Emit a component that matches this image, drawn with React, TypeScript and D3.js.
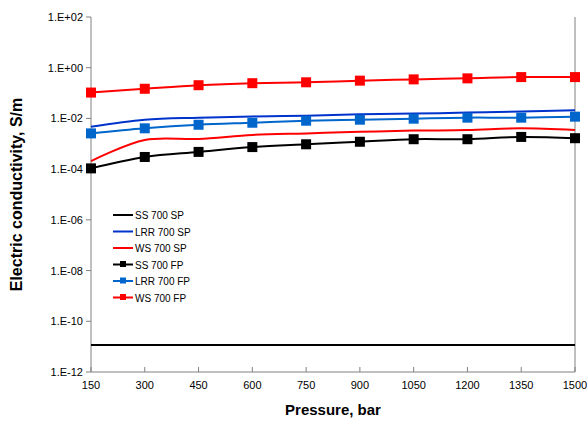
import React from "react";
import * as d3 from "d3";

const pressures = [150, 300, 450, 600, 750, 900, 1050, 1200, 1350, 1500];
const yTicks = [1e-12, 1e-10, 1e-8, 1e-6, 1e-4, 1e-2, 1, 1e2];
const yTickLabels = ["1.E-12", "1.E-10", "1.E-08", "1.E-06", "1.E-04", "1.E-02", "1.E+00", "1.E+02"];
const ssSP = [1.15e-11, 1.15e-11, 1.15e-11, 1.15e-11, 1.15e-11, 1.15e-11, 1.15e-11, 1.15e-11, 1.15e-11, 1.15e-11];
const lrrSPlog = [-2.33, -2.05, -1.97, -1.92, -1.89, -1.84, -1.81, -1.77, -1.73, -1.68];
const wsSPlog = [-3.68, -2.85, -2.81, -2.65, -2.59, -2.53, -2.48, -2.46, -2.39, -2.46];
const ssFPlog = [-3.97, -3.52, -3.32, -3.13, -3.02, -2.92, -2.82, -2.82, -2.73, -2.78];
const lrrFPlog = [-2.59, -2.39, -2.25, -2.17, -2.09, -2.05, -2.01, -1.97, -1.97, -1.93];
const wsFPlog = [-0.98, -0.83, -0.69, -0.61, -0.575, -0.51, -0.46, -0.42, -0.37, -0.37];

const series = [
  { name: "SS 700 SP", color: "#000000", values: ssSP, marker: false },
  { name: "LRR 700 SP", color: "#0033cc", values: lrrSPlog.map((v) => 10 ** v), marker: false },
  { name: "WS 700 SP", color: "#ff0000", values: wsSPlog.map((v) => 10 ** v), marker: false },
  { name: "SS 700 FP", color: "#000000", values: ssFPlog.map((v) => 10 ** v), marker: true },
  { name: "LRR 700 FP", color: "#0066cc", values: lrrFPlog.map((v) => 10 ** v), marker: true },
  { name: "WS 700 FP", color: "#ff0000", values: wsFPlog.map((v) => 10 ** v), marker: true },
];

export default function App() {
  const W = 588, H = 421;
  const x = d3.scaleLinear().domain([150, 1500]).range([91, 575]);
  const y = d3.scaleLog().domain([1e-12, 1e2]).range([372, 17]);
  const line = d3.line<number>().x((_, i) => x(pressures[i])).y((d) => y(d)).curve(d3.curveCatmullRom);
  const font = "Liberation Sans, Arial, sans-serif";
  return (
    <svg width={W} height={H} style={{ position: "absolute", left: 0, top: 0, fontFamily: font }}>
      <rect width={W} height={H} fill="#fff" />
      <line x1={91} x2={575} y1={372} y2={372} stroke="#808080" />
      <line x1={91} x2={91} y1={17} y2={372} stroke="#808080" />
      <line x1={575} x2={575} y1={17} y2={372} stroke="#808080" />
      {yTicks.map((t, i) => (
        <g key={t}>
          <line x1={86} x2={91} y1={y(t)} y2={y(t)} stroke="#808080" />
          <text x={83} y={y(t) + 4} textAnchor="end" fontSize={11}>{yTickLabels[i]}</text>
        </g>
      ))}
      {pressures.map((p) => (
        <g key={p}>
          <line x1={x(p)} x2={x(p)} y1={367} y2={372} stroke="#808080" />
          <text x={x(p)} y={389} textAnchor="middle" fontSize={11}>{p}</text>
        </g>
      ))}
      {series.map((s) => (
        <g key={s.name}>
          <path d={line(s.values) || ""} fill="none" stroke={s.color} strokeWidth={2} />
          {s.marker && s.values.map((v, i) => (
            <rect key={i} x={x(pressures[i]) - 5} y={y(v) - 5} width={10} height={10} fill={s.color} />
          ))}
        </g>
      ))}
      {series.map((s, i) => {
        const ly = 215 + i * 16.5;
        return (
          <g key={"l" + s.name}>
            <line x1={113} x2={133} y1={ly} y2={ly} stroke={s.color} strokeWidth={2} />
            {s.marker && <rect x={120} y={ly - 3.5} width={6} height={6} fill={s.color} />}
            <text x={135} y={ly + 4} fontSize={10}>{s.name}</text>
          </g>
        );
      })}
      <text x={333} y={415} textAnchor="middle" fontSize={15} fontWeight="bold">Pressure, bar</text>
      <text transform={`translate(22,${(17 + 372) / 2}) rotate(-90)`} textAnchor="middle" fontSize={16} fontWeight="bold">Electric conductivity, S/m</text>
    </svg>
  );
}
